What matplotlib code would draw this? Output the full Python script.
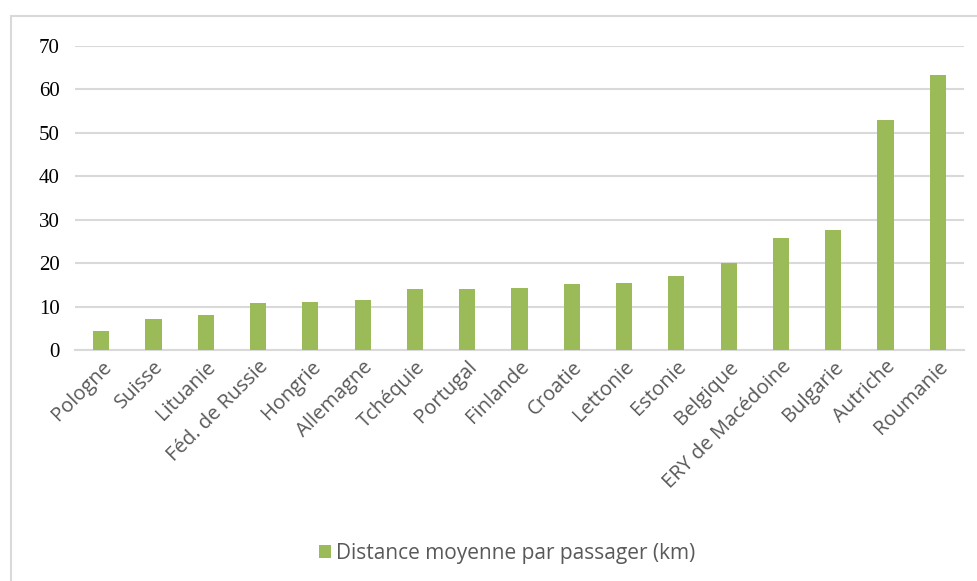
import matplotlib.pyplot as plt
from matplotlib.patches import Rectangle

# Data
pays = ["Pologne", "Suisse", "Lituanie", "Féd. de Russie", "Hongrie", "Allemagne",
        "Tchéquie", "Portugal", "Finlande", "Croatie", "Lettonie", "Estonie",
        "Belgique", "ERY de Macédoine", "Bulgarie", "Autriche", "Roumanie"]
distance = [4.4, 7.1, 8.0, 10.9, 11.0, 11.4, 14.0, 14.0, 14.2, 15.1, 15.3, 17.0,
            19.9, 25.7, 27.7, 52.8, 63.2]
yticks = [0, 10, 20, 30, 40, 50, 60, 70]

green = "#9BBB59"
grid = "#D9D9D9"

fig = plt.figure(figsize=(9.78, 5.81), dpi=100)
ax = fig.add_axes([75 / 978, 1 - 350 / 581, (964 - 75) / 978, (350 - 45.7) / 581])

# outer chart border (open on right/bottom like the crop)
fig.patches.append(Rectangle((11 / 978, -0.1), 1.2, 0.1 + (1 - 16 / 581),
                             transform=fig.transFigure, fill=False,
                             edgecolor=grid, linewidth=1.5))

x = range(len(pays))
ax.bar(x, distance, width=0.31, color=green, zorder=3,
       label="Distance moyenne par passager (km)")

ax.set_xlim(-0.5, len(pays) - 0.5)
ax.set_ylim(0, 70)
ax.set_yticks(yticks)
ax.set_yticklabels([str(v) for v in yticks], family=["Liberation Serif", "DejaVu Serif"],
                   fontsize=15, color="#000000")
ax.yaxis.grid(True, color=grid, linewidth=1.5, zorder=0)
ax.tick_params(axis="y", length=0, pad=11)
ax.tick_params(axis="x", length=0, pad=5)

ax.set_xticks(list(x))
ax.set_xticklabels(pays, rotation=45, ha="right", rotation_mode="anchor",
                   family=["Open Sans", "DejaVu Sans"], fontsize=14.5, color="#595959")

for s in ["top", "right", "left"]:
    ax.spines[s].set_visible(False)
ax.spines["bottom"].set_color(grid)
ax.spines["bottom"].set_linewidth(1.5)

fig.legend(loc="center", bbox_to_anchor=(507 / 978, 1 - 553 / 581), frameon=False,
           prop={"family": "Open Sans", "size": 15}, labelcolor="#595959",
           handlelength=0.6, handleheight=0.6, handletextpad=0.25)

fig.savefig("out.png", dpi=100)
